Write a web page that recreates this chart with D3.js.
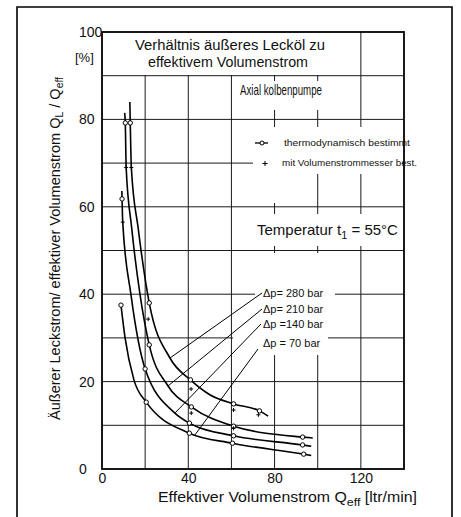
<!DOCTYPE html>
<html>
<head>
<meta charset="utf-8">
<script src="https://cdn.jsdelivr.net/npm/d3@7/dist/d3.min.js"></script>
<style>
    body { margin: 0; background: #fff; }
    svg { display: block; font-family: "Liberation Sans", Arial, sans-serif; }
</style>
</head>
<body>
<svg id="chart" width="461" height="517"></svg>
<script>

// Q_eff [ltr/min], Q_L/Q_eff [%]
var line280 = [[12.9, 84], [13.1, 79.2], [13.6, 69], [16.8, 55], [21.9, 38], [31.5, 25.4], [41, 20.4], [50, 17.0], [61, 14.9], [73, 13.3], [77, 12.1]];
var line210 = [[10.5, 81.5], [10.8, 79.2], [11.2, 69], [13.8, 55], [17.6, 40], [21.9, 28.4], [30.6, 19.0], [41.4, 14.2], [61, 9.8], [93, 7.3], [97.7, 7.1]];
var line140 = [[9.2, 63.6], [9.3, 61.8], [9.6, 56.5], [13.4, 40], [20, 22.9], [33.8, 12.8], [40.5, 10.5], [61, 7.6], [93, 5.5], [97, 5.2]];
var line70  = [[8.8, 37.5], [10.7, 30], [14.8, 20.4], [20.5, 15.3], [40.5, 8.2], [60.5, 5.9], [93.5, 3.4], [97, 3.1]];

// thermodynamisch bestimmt (circles)
var circ280 = [[13.1, 79.2], [21.9, 38], [41, 20.4], [61, 14.9], [73, 13.3]];
var circ210 = [[10.8, 79.2], [21.9, 28.4], [41.4, 14.2], [61, 9.8], [93, 7.3]];
var circ140 = [[9.3, 61.8], [20, 22.9], [40.5, 10.5], [61, 7.6], [93, 5.5]];
var circ70  = [[8.8, 37.5], [20.5, 15.3], [40.5, 8.2], [60.5, 5.9], [93.5, 3.4]];

// mit Volumenstrommesser (plus)
var plus280 = [[13.6, 69], [21.4, 34.3], [41.3, 18.3], [61, 13.5], [72.5, 12.4]];
var plus210 = [[11.2, 69], [41.4, 12.8], [61, 9.3]];
var plus140 = [[9.6, 56.5]];

var dpLabels = ['\u0394p= 280 bar', '\u0394p= 210 bar', '\u0394p =140 bar', '\u0394p = 70 bar'];
var leaderQ = [31.5, 30.6, 33.8, 43.1];
var leaderR = [25.4, 19.0, 12.8, 7.8];

var xTicks = [0, 40, 80, 120];
var yTicks = [0, 20, 40, 60, 80, 100];

var svg = d3.select('#chart');

var x = d3.scaleLinear().domain([0, 140]).range([102, 404]);
var y = d3.scaleLinear().domain([0, 100]).range([469, 32]);

// outer frame (open at the bottom, like the scan)
svg.append('path')
    .attr('d', 'M17,517V7H452V517')
    .attr('fill', 'none')
    .attr('stroke', '#000')
    .attr('stroke-width', 1.6);

// grid
var grid = svg.append('g').attr('stroke', '#1a1a1a').attr('stroke-width', 1);
grid.selectAll('.gx').data(d3.range(20, 140, 20)).enter()
    .append('line')
        .attr('x1', function(d) { return x(d); })
        .attr('x2', function(d) { return x(d); })
        .attr('y1', y(0))
        .attr('y2', y(100));
grid.selectAll('.gy').data(d3.range(10, 100, 10)).enter()
    .append('line')
        .attr('x1', x(0))
        .attr('x2', x(140))
        .attr('y1', function(d) { return y(d); })
        .attr('y2', function(d) { return y(d); });

// the gridlines are broken around the lettering -> white patches
var masks = [
    [103, 33, 256, 42],     // title
    [235, 81, 122, 29],     // Axialkolbenpumpe
    [253, 127, 149, 47],    // legend
    [262, 174, 28, 29],
    [240, 214, 162, 32],    // Temperatur
    [255, 253, 80, 67],     // delta p labels
    [233, 320, 95, 35]
];
svg.selectAll('.mask').data(masks).enter()
    .append('rect')
        .attr('x', function(d) { return d[0]; })
        .attr('y', function(d) { return d[1]; })
        .attr('width', function(d) { return d[2]; })
        .attr('height', function(d) { return d[3]; })
        .attr('fill', '#fff');

svg.append('rect')
    .attr('x', x(0))
    .attr('y', y(100))
    .attr('width', x(140) - x(0))
    .attr('height', y(0) - y(100))
    .attr('fill', 'none')
    .attr('stroke', '#000')
    .attr('stroke-width', 1.8);

// axes
var yAxis = svg.append('g')
    .attr('transform', 'translate(' + x(0) + ',0)')
    .call(d3.axisLeft(y).tickValues(yTicks).tickSize(0).tickFormat(d3.format('d')));
yAxis.select('.domain').remove();
yAxis.selectAll('text')
    .attr('x', -23)
    .attr('text-anchor', 'start')
    .attr('font-size', 14)
    .attr('font-family', '"Liberation Sans", Arial, sans-serif')
    .attr('fill', '#111');

var xAxis = svg.append('g')
    .attr('transform', 'translate(0,' + y(0) + ')')
    .call(d3.axisBottom(x).tickValues(xTicks).tickSize(0).tickPadding(4).tickFormat(d3.format('d')));
xAxis.select('.domain').remove();
xAxis.selectAll('text')
    .attr('font-size', 14)
    .attr('font-family', '"Liberation Sans", Arial, sans-serif')
    .attr('fill', '#111');

svg.append('text')
    .attr('x', 75).attr('y', 62)
    .attr('font-size', 13)
    .attr('fill', '#111')
    .text('[%]');

// axis titles
var yt = svg.append('text')
    .attr('transform', 'translate(60,420) rotate(-90)')
    .attr('font-size', 14)
    .attr('fill', '#111')
    .attr('textLength', 343)
    .attr('lengthAdjust', 'spacingAndGlyphs');
yt.append('tspan').text('\u00c4u\u00dferer  Leckstrom/ effektiver  Volumenstrom  Q');
yt.append('tspan').attr('dy', 3).attr('font-size', 10).text('L');
yt.append('tspan').attr('dy', -3).text(' / Q');
yt.append('tspan').attr('dy', 3).attr('font-size', 10).text('eff');

var xt = svg.append('text')
    .attr('x', 158).attr('y', 502)
    .attr('font-size', 14)
    .attr('fill', '#111')
    .attr('textLength', 259)
    .attr('lengthAdjust', 'spacingAndGlyphs');
xt.append('tspan').text('Effektiver Volumenstrom Q');
xt.append('tspan').attr('dy', 4).attr('font-size', 11).text('eff');
xt.append('tspan').attr('dy', -4).text(' [ltr/min]');

// title block
svg.append('text').attr('x', 135).attr('y', 50).attr('font-size', 14).attr('fill', '#111')
    .attr('textLength', 190).attr('lengthAdjust', 'spacingAndGlyphs')
    .text('Verh\u00e4ltnis \u00e4u\u00dferes Leck\u00f6l zu');
svg.append('text').attr('x', 148).attr('y', 67).attr('font-size', 14).attr('fill', '#111')
    .attr('textLength', 160).attr('lengthAdjust', 'spacingAndGlyphs')
    .text('effektivem Volumenstrom');
svg.append('text').attr('x', 240).attr('y', 95).attr('font-size', 14.5).attr('fill', '#111')
    .attr('textLength', 82).attr('lengthAdjust', 'spacingAndGlyphs')
    .text('Axial kolbenpumpe');

var tt = svg.append('text').attr('x', 257).attr('y', 235).attr('font-size', 15).attr('fill', '#111');
tt.append('tspan').text('Temperatur t');
tt.append('tspan').attr('dy', 4).attr('font-size', 11).text('1');
tt.append('tspan').attr('dy', -4).text(' = 55\u00b0C');

// legend
var leg = svg.append('g').attr('fill', '#111');
leg.append('line').attr('x1', 255).attr('x2', 268).attr('y1', 143).attr('y2', 143)
    .attr('stroke', '#000').attr('stroke-width', 1.3);
leg.append('circle').attr('cx', 262).attr('cy', 143).attr('r', 2)
    .attr('fill', '#fff').attr('stroke', '#000');
leg.append('text').attr('x', 284).attr('y', 146).attr('font-size', 9)
    .attr('textLength', 126).attr('lengthAdjust', 'spacingAndGlyphs')
    .text('thermodynamisch bestimmt');
leg.append('path').attr('d', 'M262.5,163.5h5M265,161v5')
    .attr('stroke', '#000').attr('stroke-width', 1);
leg.append('text').attr('x', 282).attr('y', 166).attr('font-size', 9)
    .attr('textLength', 135).attr('lengthAdjust', 'spacingAndGlyphs')
    .text('mit Volumenstrommesser best.');

// curves
var line = d3.line()
    .x(function(d) { return x(d[0]); })
    .y(function(d) { return y(d[1]); })
    .curve(d3.curveMonotoneX);

[line280, line210, line140, line70].forEach(function(pts) {
    svg.append('path')
        .attr('d', line(pts))
        .attr('fill', 'none')
        .attr('stroke', '#000')
        .attr('stroke-width', 1.6);
});

// leaders to the delta p labels
var labelY = [297, 313, 328, 347];
var leaderStart = [[262, 293], [262, 309], [261, 324], [258, 349]];
dpLabels.forEach(function(lbl, i) {
    svg.append('line')
        .attr('x1', leaderStart[i][0]).attr('y1', leaderStart[i][1])
        .attr('x2', x(leaderQ[i])).attr('y2', y(leaderR[i]))
        .attr('stroke', '#000').attr('stroke-width', 1);
    svg.append('text')
        .attr('x', 263).attr('y', labelY[i])
        .attr('font-size', 11)
        .attr('fill', '#111')
        .text(lbl);
});

// measurement points
[circ280, circ210, circ140, circ70].forEach(function(pts) {
    svg.append('g').selectAll('circle').data(pts).enter()
        .append('circle')
            .attr('cx', function(d) { return x(d[0]); })
            .attr('cy', function(d) { return y(d[1]); })
            .attr('r', 2.2)
            .attr('fill', '#fff')
            .attr('stroke', '#000')
            .attr('stroke-width', 1);
});
[plus280, plus210, plus140].forEach(function(pts) {
    svg.append('g').selectAll('path').data(pts).enter()
        .append('path')
            .attr('transform', function(d) { return 'translate(' + x(d[0]) + ',' + y(d[1]) + ')'; })
            .attr('d', 'M-2,0H2M0,-2V2')
            .attr('stroke', '#000')
            .attr('stroke-width', 1);
});

</script>
</body>
</html>
